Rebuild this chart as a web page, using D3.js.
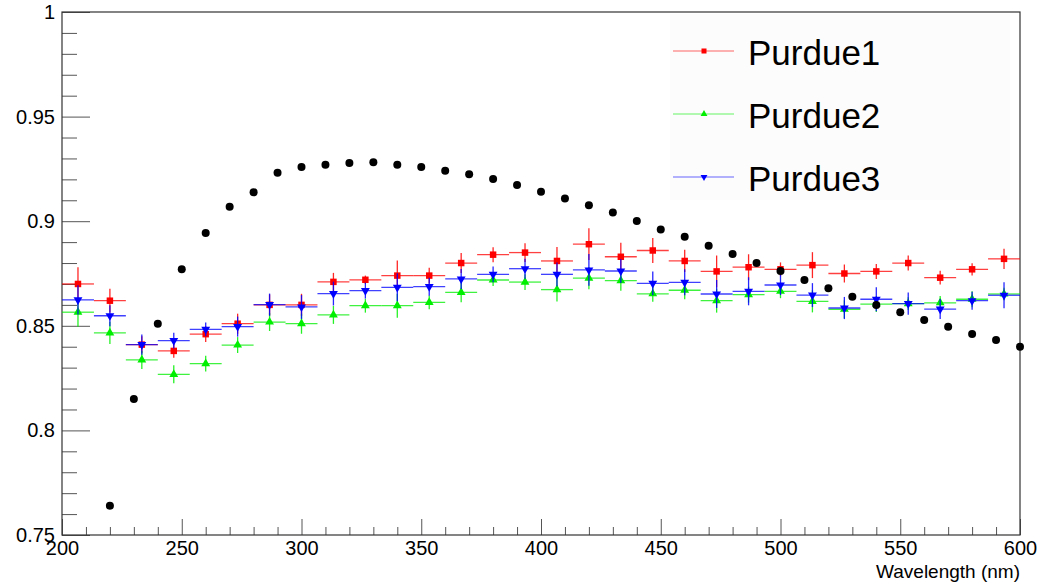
<!DOCTYPE html>
<html>
<head>
<meta charset="utf-8">
<script src="https://cdn.jsdelivr.net/npm/d3@7"></script>
<style>
  html, body { margin: 0; padding: 0; background: #fff; }
  svg { display: block; font-family: "Liberation Sans", Arial, Helvetica, sans-serif; }
</style>
</head>
<body>
<div id="chart"></div>
<script>
// bin centres (nm), bin half width 6.67 nm
var binCenters = [206.67, 220, 233.33, 246.67, 260, 273.33, 286.67, 300, 313.33, 326.67,
  340, 353.33, 366.67, 380, 393.33, 406.67, 420, 433.33, 446.67, 460,
  473.33, 486.67, 500, 513.33, 526.67, 540, 553.33, 566.67, 580, 593.33];
var binHalf = 6.67;

var purdue1 = [0.870, 0.862, 0.841, 0.838, 0.846, 0.851, 0.860, 0.860, 0.871, 0.872,
  0.874, 0.874, 0.880, 0.884, 0.885, 0.881, 0.889, 0.883, 0.886, 0.881,
  0.876, 0.878, 0.877, 0.879, 0.875, 0.876, 0.880, 0.873, 0.877, 0.882];
var purdue1Err = [0.008, 0.0057, 0.004, 0.0033, 0.0038, 0.0048, 0.005, 0.0053, 0.0043, 0.002,
  0.0072, 0.0038, 0.0048, 0.0036, 0.0045, 0.0067, 0.0076, 0.0067, 0.006, 0.0053,
  0.0076, 0.0062, 0.0033, 0.0062, 0.0043, 0.0036, 0.0036, 0.0033, 0.0029, 0.0048];

var purdue2 = [0.8565, 0.8466, 0.8337, 0.8268, 0.8319, 0.8408, 0.8518, 0.851, 0.8552, 0.8596,
  0.8596, 0.8612, 0.866, 0.8719, 0.8709, 0.8673, 0.8728, 0.8716, 0.8653, 0.867,
  0.862, 0.8649, 0.8665, 0.8617, 0.8579, 0.8604, 0.8606, 0.861, 0.8627, 0.8652];
var purdue2Err = [0.007, 0.0053, 0.0043, 0.0043, 0.0038, 0.0038, 0.0043, 0.0048, 0.0043, 0.0033,
  0.0057, 0.0033, 0.0048, 0.0029, 0.0038, 0.0057, 0.0053, 0.0048, 0.0038, 0.0043,
  0.0057, 0.0038, 0.0033, 0.0053, 0.0043, 0.0038, 0.003, 0.0033, 0.0038, 0.003];

var purdue3 = [0.8624, 0.8548, 0.8410, 0.8429, 0.8483, 0.8496, 0.8601, 0.8590, 0.8654, 0.8668,
  0.8684, 0.8687, 0.8724, 0.8746, 0.8773, 0.8746, 0.8767, 0.8762, 0.8703, 0.8708,
  0.8652, 0.8665, 0.8695, 0.8647, 0.8585, 0.8627, 0.8606, 0.858, 0.862, 0.8646];
var purdue3Err = [0.007, 0.005, 0.0048, 0.0038, 0.0033, 0.0048, 0.0053, 0.0057, 0.0057, 0.0038,
  0.0067, 0.0043, 0.0048, 0.0038, 0.0048, 0.0057, 0.0076, 0.0057, 0.0057, 0.0062,
  0.0067, 0.0067, 0.0048, 0.0057, 0.0053, 0.0057, 0.0053, 0.0048, 0.0043, 0.0062];

// reference curve (black dots)
var refX = [220, 230, 240, 250, 260, 270, 280, 290, 300, 310, 320, 330, 340, 350, 360, 370,
  380, 390, 400, 410, 420, 430, 440, 450, 460, 470, 480, 490, 500, 510, 520, 530,
  540, 550, 560, 570, 580, 590, 600];
var refY = [0.764, 0.815, 0.851, 0.877, 0.8944, 0.9069, 0.9138, 0.9232, 0.9259, 0.927,
  0.9278, 0.9282, 0.927, 0.9259, 0.9241, 0.9224, 0.9202, 0.9173, 0.9141, 0.9108,
  0.9076, 0.9041, 0.9001, 0.896, 0.8926, 0.8883, 0.8843, 0.880, 0.8762, 0.8719,
  0.8679, 0.8639, 0.8599, 0.8565, 0.8528, 0.8496, 0.8461, 0.8432, 0.840];

var xTicks = [200, 250, 300, 350, 400, 450, 500, 550, 600];
var yTicks = [0.75, 0.8, 0.85, 0.9, 0.95, 1];
var legendNames = ['Purdue1', 'Purdue2', 'Purdue3'];

var width = 1056, height = 586;
var margin = {left: 62, top: 12, right: 36, bottom: 51};

var svg = d3.select('#chart').append('svg')
  .attr('width', width)
  .attr('height', height);

var x = d3.scaleLinear().domain([200, 600]).range([margin.left, width - margin.right]);
var y = d3.scaleLinear().domain([0.75, 1]).range([height - margin.bottom, margin.top]);

// minor ticks
var xMinor = d3.range(200, 601, 10).filter(function(v) { return v % 50 !== 0; });
var yMinor = d3.range(75, 101).map(function(v) { return v / 100; }).filter(function(v) { return Math.round(v * 100) % 5 !== 0; });

var gx = svg.append('g').attr('transform', 'translate(0,' + y(0.75) + ')');
gx.call(d3.axisBottom(x).tickValues(xTicks).tickSizeInner(-16).tickSizeOuter(0).tickPadding(6)
  .tickFormat(d3.format('d')));
gx.append('g').call(d3.axisBottom(x).tickValues(xMinor).tickSizeInner(-8).tickSizeOuter(0).tickFormat(''));

var gy = svg.append('g').attr('transform', 'translate(' + x(200) + ',0)');
gy.call(d3.axisLeft(y).tickValues(yTicks).tickSizeInner(-28).tickSizeOuter(0).tickPadding(7)
  .tickFormat(function(d) { return d3.format('')(+d.toFixed(2)); }));
gy.append('g').call(d3.axisLeft(y).tickValues(yMinor).tickSizeInner(-15).tickSizeOuter(0).tickFormat(''));

svg.selectAll('.domain').remove();
svg.selectAll('.tick line').attr('stroke', '#555');
svg.selectAll('.tick text').attr('font-size', 20).attr('fill', '#000')
  .attr('font-family', '"Liberation Sans", Arial, sans-serif');

// frame
svg.append('rect')
  .attr('x', x(200)).attr('y', y(1))
  .attr('width', x(600) - x(200)).attr('height', y(0.75) - y(1))
  .attr('fill', 'none').attr('stroke', '#333').attr('stroke-width', 1.2);

// axis title
svg.append('text')
  .attr('x', x(600)).attr('y', 578)
  .attr('text-anchor', 'end')
  .attr('font-size', 19)
  .text('Wavelength (nm)');

// legend box
var legend = svg.append('g');
legend.append('rect')
  .attr('x', 670).attr('y', 14).attr('width', 340).attr('height', 186)
  .attr('fill', '#fcfcfc');

var series = [
  {name: legendNames[0], values: purdue1, errs: purdue1Err, color: '#ff0000', marker: d3.symbolSquare, size: 42, rot: 0},
  {name: legendNames[1], values: purdue2, errs: purdue2Err, color: '#00ee00', marker: d3.symbolTriangle, size: 34, rot: 0},
  {name: legendNames[2], values: purdue3, errs: purdue3Err, color: '#0000ff', marker: d3.symbolTriangle, size: 34, rot: 180}
];

series.forEach(function(s, si) {
  var pts = binCenters.map(function(c, i) { return {x: c, y: s.values[i], e: s.errs[i]}; });
  var g = svg.append('g').attr('class', 'series ' + s.name);

  g.selectAll('.hbar').data(pts).enter().append('line')
    .attr('x1', function(d) { return x(d.x - binHalf); })
    .attr('x2', function(d) { return x(d.x + binHalf); })
    .attr('y1', function(d) { return y(d.y); })
    .attr('y2', function(d) { return y(d.y); })
    .attr('stroke', s.color).attr('stroke-width', 1.3).attr('stroke-opacity', 0.75);

  g.selectAll('.vbar').data(pts).enter().append('line')
    .attr('x1', function(d) { return x(d.x); })
    .attr('x2', function(d) { return x(d.x); })
    .attr('y1', function(d) { return y(d.y - d.e); })
    .attr('y2', function(d) { return y(d.y + d.e); })
    .attr('stroke', s.color).attr('stroke-width', 1.3).attr('stroke-opacity', 0.85);

  g.selectAll('.mark').data(pts).enter().append('path')
    .attr('d', d3.symbol().type(s.marker).size(s.size))
    .attr('transform', function(d) { return 'translate(' + x(d.x) + ',' + y(d.y) + ') rotate(' + s.rot + ')'; })
    .attr('fill', s.color);

  // legend entry
  var ly = 51 + si * 63;
  legend.append('line')
    .attr('x1', 673).attr('x2', 734).attr('y1', ly).attr('y2', ly)
    .attr('stroke', s.color).attr('stroke-width', 1.2).attr('stroke-opacity', 0.6);
  legend.append('path')
    .attr('d', d3.symbol().type(s.marker).size(s.size * 0.6))
    .attr('transform', 'translate(704,' + ly + ') rotate(' + s.rot + ')')
    .attr('fill', s.color);
  legend.append('text')
    .attr('x', 748).attr('y', ly + 14)
    .attr('font-size', 35)
    .attr('fill', '#000')
    .text(s.name);
});

// reference points drawn on top
svg.append('g').selectAll('circle')
  .data(refX.map(function(v, i) { return {x: v, y: refY[i]}; }))
  .enter().append('circle')
  .attr('cx', function(d) { return x(d.x); })
  .attr('cy', function(d) { return y(d.y); })
  .attr('r', 4)
  .attr('fill', '#000');
</script>
</body>
</html>
